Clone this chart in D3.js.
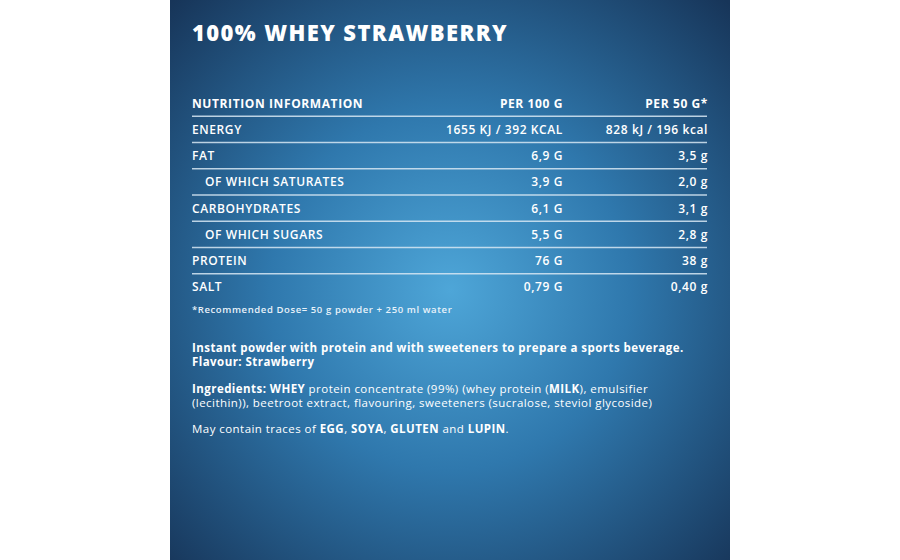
<!DOCTYPE html><html><head><meta charset="utf-8"><script src="https://cdn.jsdelivr.net/npm/d3@7"></script>
<style>body{margin:0;background:#fff}</style></head><body><svg id="c" width="900" height="560"></svg>
<script>
const headers=["NUTRITION INFORMATION","PER 100 G","PER 50 G*"];
const nutrients=["ENERGY","FAT","OF WHICH SATURATES","CARBOHYDRATES","OF WHICH SUGARS","PROTEIN","SALT"];
const indent=[false,false,true,false,true,false,false];
const per100=["1655 KJ / 392 KCAL","6,9 G","3,9 G","6,1 G","5,5 G","76 G","0,79 G"];
const per50=["828 kJ / 196 kcal","3,5 g","2,0 g","3,1 g","2,8 g","38 g","0,40 g"];
const svg=d3.select("#c");
const F="'Open Sans',sans-serif";
const defs=svg.append("defs");
const g=defs.append("radialGradient").attr("id","bg").attr("gradientUnits","userSpaceOnUse").attr("cx",450).attr("cy",290).attr("r",400);
g.append("stop").attr("offset","0").attr("stop-color","#4ea6d8");
g.append("stop").attr("offset","0.45").attr("stop-color","#2f78ad");
g.append("stop").attr("offset","1").attr("stop-color","#173559");
svg.append("rect").attr("x",170).attr("y",0).attr("width",560).attr("height",560).attr("fill","url(#bg)");
svg.append("text").attr("x",192).attr("y",41).attr("fill","#fff").attr("font-family",F).attr("font-weight",800).attr("font-size",22).attr("letter-spacing",1.4).text("100% WHEY STRAWBERRY");
const rows=["head",...nutrients];
const y=d3.scaleBand().domain(rows).range([90,300]).paddingInner(0);
const x=d3.scaleOrdinal().domain(headers).range([192,563,708]);
const t=svg.append("g").attr("font-family",F).attr("font-size",12).attr("fill","#fff").attr("letter-spacing",0.6);
headers.forEach((h,i)=>t.append("text").attr("x",x(h)).attr("y",y("head")+y.bandwidth()/2+4.5).attr("text-anchor",i?"end":"start").attr("font-weight",700).text(h));
nutrients.forEach((n,i)=>{
 const cy=y(n)+y.bandwidth()/2+4.5;
 t.append("text").attr("x",x(headers[0])+(indent[i]?13:0)).attr("y",cy).attr("font-weight",600).text(n);
 t.append("text").attr("x",x(headers[1])).attr("y",cy).attr("text-anchor","end").attr("font-weight",600).text(per100[i]);
 t.append("text").attr("x",x(headers[2])).attr("y",cy).attr("text-anchor","end").attr("font-weight",600).text(per50[i]);
 svg.append("line").attr("x1",192).attr("x2",707).attr("y1",y(n)).attr("y2",y(n)).attr("stroke","#d8e8f4").attr("stroke-width",1.3).attr("opacity",0.85);
});
svg.append("text").attr("x",192).attr("y",313).attr("fill","#e8f2fa").attr("font-family",F).attr("font-size",9.5).attr("letter-spacing",0.6).attr("font-weight",600).text("*Recommended Dose= 50 g powder + 250 ml water");
const para=[
 [[{t:"Instant powder with protein and with sweeteners to prepare a sports beverage.",b:1}],352],
 [[{t:"Flavour: Strawberry",b:1}],366],
 [[{t:"Ingredients: WHEY",b:1},{t:" protein concentrate (99%) (whey protein ("},{t:"MILK",b:1},{t:"), emulsifier"}],393],
 [[{t:"(lecithin)), beetroot extract, flavouring, sweeteners (sucralose, steviol glycoside)"}],407],
 [[{t:"May contain traces of "},{t:"EGG",b:1},{t:", "},{t:"SOYA",b:1},{t:", "},{t:"GLUTEN",b:1},{t:" and "},{t:"LUPIN",b:1},{t:"."}],433]];
para.forEach(([parts,yy])=>{
 const tx=svg.append("text").attr("x",192).attr("y",yy).attr("fill","#fff").attr("font-family",F).attr("font-size",11.5).attr("letter-spacing",0.45);
 parts.forEach(p=>tx.append("tspan").attr("font-weight",p.b?700:400).text(p.t));
});
</script></body></html>
